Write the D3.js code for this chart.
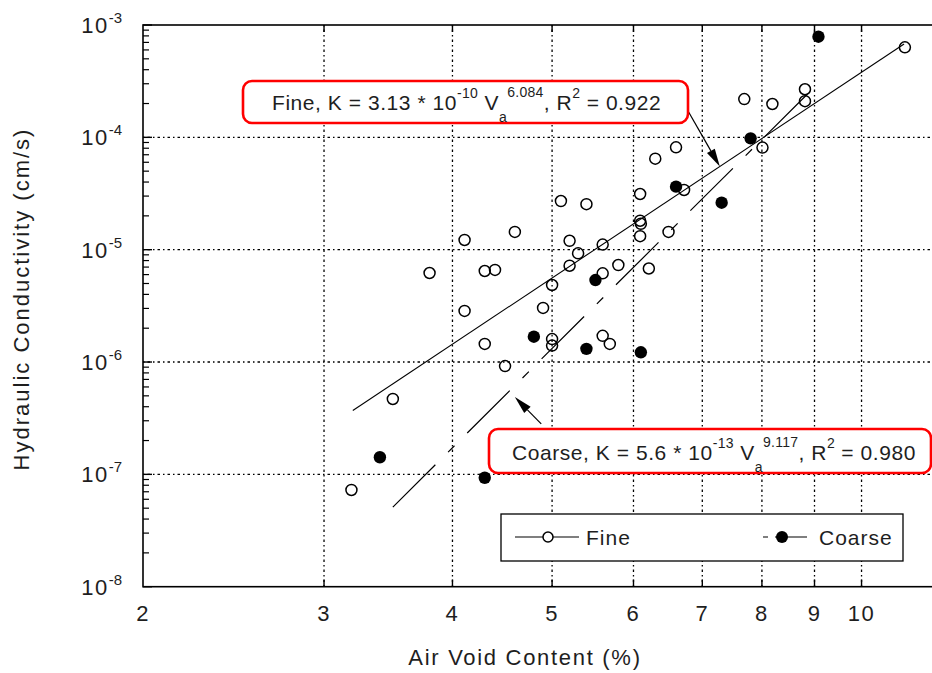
<!DOCTYPE html>
<html><head><meta charset="utf-8">
<script src="https://cdn.jsdelivr.net/npm/d3@7/dist/d3.min.js"></script>
<style>
body{margin:0;background:#fff}
svg{display:block}
text{font-family:"Liberation Sans",Arial,sans-serif;fill:#1e1e1e}
</style>
</head><body>
<svg id="chart" width="932" height="673"></svg>
<script>
// ---- data ----
const fineVoids = [3.19,3.50,3.80,4.11,4.11,4.30,4.40,4.30,4.60,4.50,4.90,5.00,5.00,5.00,5.10,5.20,5.30,5.20,5.40,5.60,5.60,5.60,5.69,5.80,6.09,6.09,6.10,6.09,6.21,6.49,6.30,6.60,6.72,7.69,8.19,8.01,8.81,8.81,11.02];
const fineK     = [7.26e-8,4.69e-7,6.2e-6,1.22e-5,2.85e-6,6.46e-6,6.6e-6,1.45e-6,1.44e-5,9.2e-7,3.03e-6,4.85e-6,1.6e-6,1.4e-6,2.71e-5,1.2e-5,9.28e-6,7.2e-6,2.54e-5,1.11e-5,6.16e-6,1.71e-6,1.45e-6,7.3e-6,3.13e-5,1.81e-5,1.7e-5,1.32e-5,6.8e-6,1.44e-5,6.46e-5,8.15e-5,3.4e-5,2.19e-4,1.98e-4,8.1e-5,2.68e-4,2.1e-4,6.33e-4];
const coarseVoids = [3.40,4.30,4.80,5.40,5.51,6.10,6.60,7.31,7.80,9.08];
const coarseK     = [1.42e-7,9.33e-8,1.68e-6,1.31e-6,5.37e-6,1.22e-6,3.64e-5,2.62e-5,9.8e-5,7.87e-4];
// power-law fits K = a * V^b, as printed on the chart, and the span they are drawn over
const fineFit = [3.13e-10, 6.084];
const fineFitSpan = [3.2, 11.0];
const coarseFit = [5.6e-13, 9.117];
const coarseFitSpan = [3.5, 9.1];
const xTickValues = [2,3,4,5,6,7,8,9,10];
const yDecades = [-3,-4,-5,-6,-7,-8];
// arrow annotations (tail, tip) in data space
const fineArrow = [[6.78,1.716e-4],[7.28,5.5e-5]];
const coarseArrow = [[4.88,2.81e-7],[4.60,4.89e-7]];

// ---- layout ----
const svg = d3.select("#chart");
const L = 143, T = 25, B = 586.7;
const x = d3.scaleLog().domain([2, 12]).range([L, L + 1028*Math.log10(6)]);
const y = d3.scaleLog().domain([1e-8, 1e-3]).range([B, T]);
const R = x(12);

// grid
const gridDash = "1.5,3,2.5,3";
svg.append("g").selectAll("line").data(xTickValues.filter(v=>v>2)).join("line")
  .attr("x1",d=>x(d)).attr("x2",d=>x(d)).attr("y1",T).attr("y2",B)
  .attr("stroke","#000").attr("stroke-width",1.3).attr("stroke-dasharray",gridDash);
svg.append("g").selectAll("line").data(yDecades.filter(d=>d<-3&&d>-8)).join("line")
  .attr("x1",L).attr("x2",R).attr("y1",d=>y(Math.pow(10,d))).attr("y2",d=>y(Math.pow(10,d)))
  .attr("stroke","#000").attr("stroke-width",1.3).attr("stroke-dasharray",gridDash);

// frame
svg.append("rect").attr("x",L).attr("y",T).attr("width",R-L).attr("height",B-T)
  .attr("fill","none").attr("stroke","#000").attr("stroke-width",1.6);

// y ticks (minor + major, inward)
const yMinor = [];
for (let d=-8; d<-3; d++) for (let m=2; m<=9; m++) yMinor.push(m*Math.pow(10,d));
svg.append("g").selectAll("line").data(yMinor).join("line")
  .attr("x1",L).attr("x2",L+6).attr("y1",d=>y(d)).attr("y2",d=>y(d))
  .attr("stroke","#000").attr("stroke-width",1.2);
svg.append("g").selectAll("line").data(yDecades).join("line")
  .attr("x1",L).attr("x2",L+9).attr("y1",d=>y(Math.pow(10,d))).attr("y2",d=>y(Math.pow(10,d)))
  .attr("stroke","#000").attr("stroke-width",1.4);
// x ticks (bottom + top, inward)
svg.append("g").selectAll("line").data(xTickValues.filter(v=>v>2)).join("line")
  .attr("x1",d=>x(d)).attr("x2",d=>x(d)).attr("y1",B).attr("y2",B-7)
  .attr("stroke","#000").attr("stroke-width",1.4);
svg.append("g").selectAll("line").data(xTickValues.filter(v=>v>2)).join("line")
  .attr("x1",d=>x(d)).attr("x2",d=>x(d)).attr("y1",T).attr("y2",T+7)
  .attr("stroke","#000").attr("stroke-width",1.4);

// tick labels
svg.append("g").selectAll("text").data(xTickValues).join("text")
  .attr("x",d=>x(d)).attr("y",621).attr("text-anchor","middle")
  .attr("font-size",22).attr("letter-spacing","1.5px").text(d=>d);
const yl = svg.append("g").selectAll("text").data(yDecades).join("text")
  .attr("x",122).attr("y",d=>y(Math.pow(10,d))+8).attr("text-anchor","end")
  .attr("font-size",22).attr("letter-spacing","1.5px");
yl.append("tspan").text("10");
yl.append("tspan").attr("dy",-10).attr("font-size",15).attr("letter-spacing","0px").text(d=>d);

// axis titles
svg.append("text").attr("x",525).attr("y",665).attr("text-anchor","middle")
  .attr("font-size",22).attr("letter-spacing","1.7px").text("Air Void Content (%)");
svg.append("text").attr("transform","translate(29,299) rotate(-90)").attr("text-anchor","middle")
  .attr("font-size",22).attr("letter-spacing","2px").text("Hydraulic Conductivity (cm/s)");

// fit lines (straight in log-log space)
const fitPts = (fit, span) => span.map(v => [v, fit[0]*Math.pow(v, fit[1])]);
const line = d3.line().x(d=>x(d[0])).y(d=>y(d[1]));
svg.append("path").attr("d",line(fitPts(fineFit,fineFitSpan)))
  .attr("fill","none").attr("stroke","#000").attr("stroke-width",1.1);
svg.append("path").attr("d",line(fitPts(coarseFit,coarseFitSpan)))
  .attr("fill","none").attr("stroke","#000").attr("stroke-width",1.2)
  .attr("stroke-dasharray","60,18,9,18");

// points
svg.append("g").selectAll("circle").data(d3.zip(fineVoids,fineK)).join("circle")
  .attr("cx",d=>x(d[0])).attr("cy",d=>y(d[1])).attr("r",5.5)
  .attr("fill","none").attr("stroke","#000").attr("stroke-width",1.5);
svg.append("g").selectAll("circle").data(d3.zip(coarseVoids,coarseK)).join("circle")
  .attr("cx",d=>x(d[0])).attr("cy",d=>y(d[1])).attr("r",6.2)
  .attr("fill","#000");

// arrows
function arrow(pts){
  const [x0,y0]=[x(pts[0][0]),y(pts[0][1])], [x1,y1]=[x(pts[1][0]),y(pts[1][1])];
  const ang=Math.atan2(y1-y0,x1-x0), len=18, w=4.5;
  const bx=x1-len*Math.cos(ang), by=y1-len*Math.sin(ang);
  svg.append("line").attr("x1",x0).attr("y1",y0).attr("x2",bx).attr("y2",by)
    .attr("stroke","#000").attr("stroke-width",1.2);
  svg.append("polygon").attr("points",[[x1,y1],[bx+w*Math.sin(ang),by-w*Math.cos(ang)],[bx-w*Math.sin(ang),by+w*Math.cos(ang)]].map(p=>p.join(",")).join(" "))
    .attr("fill","#000");
}
arrow(fineArrow);
arrow(coarseArrow);

// annotation boxes
function eqBox(bx,by,bw,bh,tx,ty,parts){
  svg.append("rect").attr("x",bx).attr("y",by).attr("width",bw).attr("height",bh).attr("rx",9)
    .attr("fill","#fff").attr("stroke","#f00").attr("stroke-width",2.6);
  const t = svg.append("text").attr("x",tx).attr("y",ty).attr("font-size",21).attr("letter-spacing","0.55px").attr("fill","#333");
  parts.forEach(p=>{
    const s=t.append("tspan").text(p.t);
    if(p.dy) s.attr("dy",p.dy);
    if(p.small) s.attr("font-size",14).attr("letter-spacing","0.3px");
  });
}
eqBox(243,81,445,42,272,110,[
  {t:"Fine, K = 3.13 * 10"},{t:"-10",dy:-12,small:true},{t:" V",dy:12},
  {t:"a",dy:12,small:true},{t:"6.084",dy:-25,small:true},{t:", R",dy:13},
  {t:"2",dy:-12,small:true},{t:" = 0.922",dy:12}]);
eqBox(489,429,442,44,512,460,[
  {t:"Coarse, K = 5.6 * 10"},{t:"-13",dy:-12,small:true},{t:" V",dy:12},
  {t:"a",dy:12,small:true},{t:"9.117",dy:-25,small:true},{t:", R",dy:13},
  {t:"2",dy:-12,small:true},{t:" = 0.980",dy:12}]);

// legend
const lg = svg.append("g");
lg.append("rect").attr("x",501).attr("y",514).attr("width",402).attr("height",47)
  .attr("fill","#fff").attr("stroke","#000").attr("stroke-width",1.3);
lg.append("line").attr("x1",515).attr("x2",579).attr("y1",537).attr("y2",537).attr("stroke","#000").attr("stroke-width",1.2);
lg.append("circle").attr("cx",548).attr("cy",537).attr("r",5).attr("fill","#fff").attr("stroke","#000").attr("stroke-width",1.5);
lg.append("text").attr("x",586).attr("y",545).attr("font-size",21).attr("letter-spacing","1px").text("Fine");
lg.append("line").attr("x1",763).attr("x2",807).attr("y1",537).attr("y2",537).attr("stroke","#000").attr("stroke-width",1.2).attr("stroke-dasharray","5,7,40");
lg.append("circle").attr("cx",782).attr("cy",537).attr("r",6).attr("fill","#000");
lg.append("text").attr("x",819).attr("y",545).attr("font-size",21).attr("letter-spacing","1px").text("Coarse");
</script>
</body></html>
